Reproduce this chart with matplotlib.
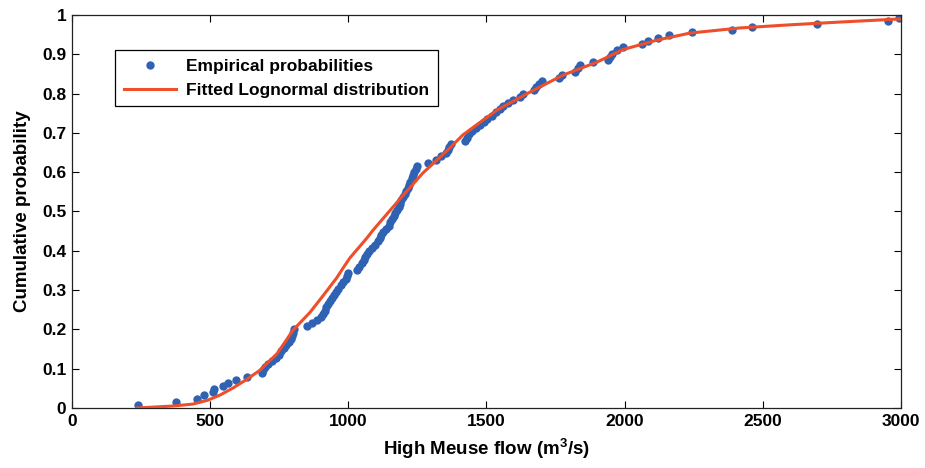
import matplotlib
matplotlib.use("Agg")
import matplotlib.pyplot as plt

# Empirical probabilities (x = flow, y = cumulative probability)
emp_x = [238, 378, 452, 478, 510, 515, 548, 565, 592, 632,
         686, 692, 700, 708, 725, 738, 748, 758, 766, 775,
         784, 792, 798, 800, 803, 850, 869, 888, 900, 908,
         914, 920, 928, 935, 942, 948, 954, 962, 972, 982,
         990, 994, 998, 1030, 1040, 1050, 1056, 1062, 1068, 1076,
         1086, 1096, 1106, 1113, 1120, 1125, 1136, 1146, 1152, 1158,
         1164, 1170, 1176, 1182, 1187, 1192, 1198, 1204, 1210, 1216,
         1221, 1225, 1230, 1233, 1237, 1244, 1250, 1288, 1318, 1335,
         1352, 1360, 1366, 1372, 1422, 1430, 1438, 1446, 1462, 1476,
         1490, 1502, 1520, 1535, 1548, 1560, 1578, 1595, 1620, 1632,
         1672, 1680, 1690, 1700, 1762, 1775, 1822, 1830, 1840, 1886,
         1940, 1946, 1956, 1972, 1994, 2062, 2086, 2121, 2161, 2244,
         2390, 2461, 2696, 2953, 2993]
emp_y = [0.008, 0.016, 0.024, 0.032, 0.040, 0.048, 0.056, 0.064, 0.072, 0.080,
         0.088, 0.096, 0.104, 0.112, 0.120, 0.128, 0.136, 0.144, 0.152, 0.160,
         0.168, 0.176, 0.184, 0.192, 0.200, 0.208, 0.216, 0.224, 0.232, 0.240,
         0.248, 0.256, 0.264, 0.272, 0.280, 0.288, 0.296, 0.304, 0.312, 0.320,
         0.328, 0.336, 0.344, 0.352, 0.360, 0.368, 0.376, 0.384, 0.392, 0.400,
         0.408, 0.416, 0.424, 0.432, 0.440, 0.448, 0.456, 0.464, 0.472, 0.480,
         0.488, 0.496, 0.504, 0.512, 0.520, 0.528, 0.536, 0.544, 0.552, 0.560,
         0.568, 0.576, 0.584, 0.592, 0.600, 0.608, 0.616, 0.624, 0.632, 0.640,
         0.648, 0.656, 0.664, 0.672, 0.680, 0.688, 0.696, 0.704, 0.712, 0.720,
         0.728, 0.736, 0.744, 0.752, 0.760, 0.768, 0.776, 0.784, 0.792, 0.800,
         0.808, 0.816, 0.824, 0.832, 0.840, 0.848, 0.856, 0.864, 0.872, 0.880,
         0.886, 0.892, 0.900, 0.910, 0.918, 0.926, 0.933, 0.941, 0.948, 0.956,
         0.963, 0.969, 0.977, 0.984, 0.992]

# Fitted lognormal CDF
fit_x = [235, 366, 438, 492, 536, 583, 633, 680, 742, 800,
         861, 908, 959, 981, 1006, 1068, 1089, 1187, 1270, 1321,
         1368, 1415, 1538, 1658, 1777, 1900, 1994, 2117, 2237, 2418,
         2599, 2780, 3000]
fit_y = [0.000, 0.005, 0.010, 0.020, 0.033, 0.051, 0.073, 0.096, 0.138, 0.198,
         0.243, 0.285, 0.332, 0.356, 0.382, 0.433, 0.452, 0.532, 0.598, 0.631,
         0.662, 0.695, 0.758, 0.804, 0.847, 0.880, 0.912, 0.936, 0.954, 0.967,
         0.975, 0.982, 0.990]

x_ticks = [0, 500, 1000, 1500, 2000, 2500, 3000]
y_ticks = [0, 0.1, 0.2, 0.3, 0.4, 0.5, 0.6, 0.7, 0.8, 0.9, 1]
y_tick_labels = ["0", "0.1", "0.2", "0.3", "0.4", "0.5", "0.6", "0.7", "0.8", "0.9", "1"]

plt.rcParams['font.family'] = ['Liberation Sans', 'DejaVu Sans']
plt.rcParams['mathtext.default'] = 'regular'

fig = plt.figure(figsize=(9.25, 4.68), dpi=100)
ax = fig.add_axes([0.0778, 0.1282, 0.8962, 0.8398])

blue = "#2f62b3"
red = "#ee4f2a"
ax.plot(emp_x, emp_y, linestyle="none", marker="o", markersize=6,
        color=blue, markeredgewidth=0, label="Empirical probabilities", zorder=2)
ax.plot(fit_x, fit_y, color=red, linewidth=2.2,
        label="Fitted Lognormal distribution", zorder=3)

ax.set_xlim(0, 3000)
ax.set_ylim(0, 1)
ax.set_xticks(x_ticks)
ax.set_yticks(y_ticks)
ax.set_yticklabels(y_tick_labels)
ax.tick_params(direction="in", top=True, right=True, length=5, width=0.8,
               labelsize=12.5, pad=4)
for lab in ax.get_xticklabels() + ax.get_yticklabels():
    lab.set_fontweight("bold")
for s in ax.spines.values():
    s.set_linewidth(0.9)
    s.set_color("#222222")

ax.set_xlabel("High Meuse flow (m$^3$/s)", fontsize=13.5, fontweight="bold", labelpad=6)
ax.set_ylabel("Cumulative probability", fontsize=13.5, fontweight="bold", labelpad=8)

leg = ax.legend(loc="upper left", bbox_to_anchor=(0.052, 0.911), fancybox=False,
                framealpha=1, edgecolor="black", fontsize=12.5, handlelength=3.0,
                borderpad=0.5, labelspacing=0.5, handletextpad=0.6, borderaxespad=0)
leg.get_frame().set_linewidth(0.9)
for t in leg.get_texts():
    t.set_fontweight("bold")

fig.savefig("out.png", dpi=100)
